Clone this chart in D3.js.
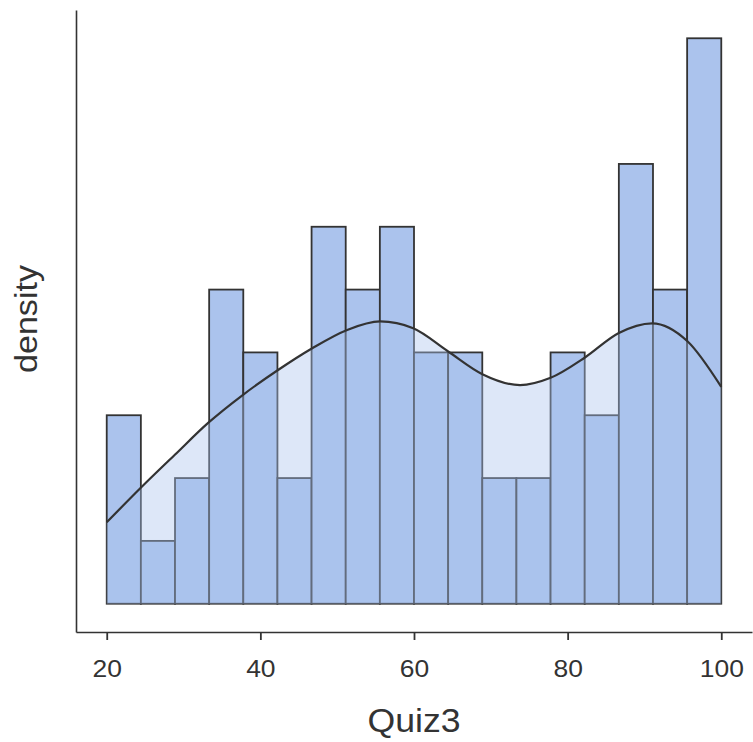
<!DOCTYPE html>
<html lang="en">
<head>
    <meta charset="UTF-8">
    <title>Quiz3 histogram</title>
    <script src="https://d3js.org/d3.v7.min.js"></script>
    <style>
        body { margin: 0; background: #fff; }
        text { font-family: "Liberation Sans", Arial, sans-serif; fill: #333; }
    </style>
</head>
<body>
    <script>

        // data
        var binLo = 20, binHi = 100
        var counts = [3, 1, 2, 5, 4, 2, 6, 5, 6, 4, 4, 2, 2, 4, 3, 7, 5, 9]
        var densX = [20, 24.4, 28.9, 33.2, 37.7, 42.3, 46.7, 51.3, 55.6, 59.9, 64.4, 68.9, 73.8, 77.7, 82.3, 86.6, 91.0, 95.6, 100]
        var densY = [0.00394, 0.00560, 0.00722, 0.00875, 0.01010, 0.01131, 0.01235, 0.01325, 0.01366, 0.01333,
                     0.01222, 0.01111, 0.01058, 0.01092, 0.01193, 0.01309, 0.01357, 0.01270, 0.01049]
        var xTicks = [20, 40, 60, 80, 100]

        var w = 753, h = 742
        var svg = d3.select('body').append('svg')
                    .attr('width', w)
                    .attr('height', h)

        var total = d3.sum(counts)
        var bw = (binHi - binLo) / counts.length
        var bins = counts.map((c, i) => ({x0: binLo + i * bw, x1: binLo + (i + 1) * bw, d: c / (total * bw)}))
        var maxD = d3.max(bins, d => d.d)

        var xPad = (binHi - binLo) * 0.05
        var xScale = d3.scaleLinear()
                        .domain([binLo - xPad, binHi + xPad])
                        .range([76, 752])
        var yScale = d3.scaleLinear()
                        .domain([-0.05 * maxD, 1.05 * maxD])
                        .range([632, 10])

        var blue = '#abc3ed'

        // bars
        svg.append('g').selectAll('rect')
            .data(bins)
            .enter()
            .append('rect')
            .attr('x', d => xScale(d.x0))
            .attr('y', d => yScale(d.d))
            .attr('width', d => xScale(d.x1) - xScale(d.x0))
            .attr('height', d => yScale(0) - yScale(d.d))
            .attr('fill', blue)
            .attr('stroke', '#333')
            .attr('stroke-width', 1.8)

        // density
        var pts = densX.map((x, i) => [x, densY[i]])
        var area = d3.area()
                    .x(d => xScale(d[0]))
                    .y0(yScale(0))
                    .y1(d => yScale(d[1]))
                    .curve(d3.curveMonotoneX)
        var line = d3.line()
                    .x(d => xScale(d[0]))
                    .y(d => yScale(d[1]))
                    .curve(d3.curveMonotoneX)

        svg.append('path')
            .datum(pts)
            .attr('d', area)
            .attr('fill', blue)
            .attr('fill-opacity', 0.4)

        svg.append('path')
            .datum(pts)
            .attr('d', line)
            .attr('fill', 'none')
            .attr('stroke', '#333')
            .attr('stroke-width', 2.2)

        //axis
        var xAxis = d3.axisBottom(xScale)
                    .tickValues(xTicks)
                    .tickSizeInner(8)
                    .tickSizeOuter(0)
        var gx = svg.append('g')
            .attr('transform', 'translate(0,' + 632 + ')')
            .call(xAxis)
        gx.select('.domain').attr('stroke', '#333').attr('stroke-width', 1.6)
        gx.selectAll('.tick line').attr('stroke', '#333').attr('stroke-width', 1.8)
        gx.selectAll('.tick text')
            .attr('y', 45)
            .attr('dy', 0)
            .attr('font-size', 23)
            .attr('fill', '#333')
            .attr('transform', 'scale(1.15,1)')
            .style('font-family', '"Liberation Sans", Arial, sans-serif')

        var yAxis = d3.axisLeft(yScale).tickValues([]).tickSizeOuter(0)
        var gy = svg.append('g')
            .attr('transform', 'translate(76,0)')
            .call(yAxis)
        gy.select('.domain').attr('stroke', '#333').attr('stroke-width', 1.6)

        // titles
        svg.append('text')
            .attr('transform', 'translate(' + xScale((binLo + binHi) / 2) + ',732) scale(1.08,1)')
            .attr('text-anchor', 'middle')
            .attr('font-size', 33)
            .text('Quiz3')

        svg.append('text')
            .attr('transform', 'translate(37,319) rotate(-90) scale(1.1,1)')
            .attr('text-anchor', 'middle')
            .attr('font-size', 31)
            .text('density')

    </script>
</body>
</html>
